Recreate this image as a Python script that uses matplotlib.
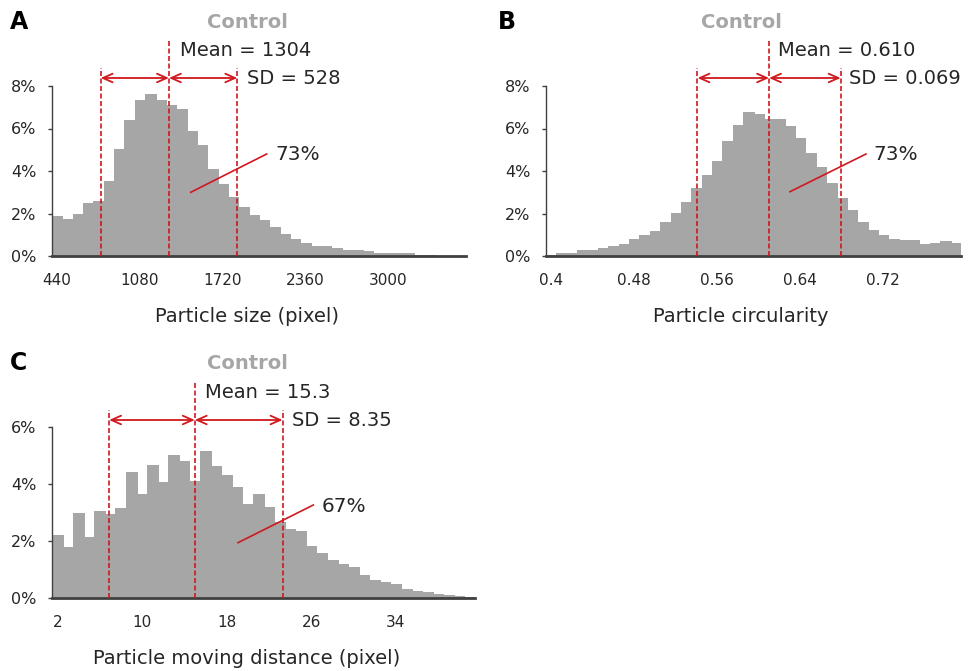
import numpy as np
import matplotlib
matplotlib.use("Agg")
import matplotlib.pyplot as plt
from matplotlib.lines import Line2D
import matplotlib.transforms as mtransforms

plt.rcParams['font.family'] = ['DejaVu Sans']

# ---------------- data ----------------
# Panel A: particle size (pixel), bin centers every 80 px starting at 440
size_bins = np.arange(440, 440 + 80 * 40, 80)
size_pct = [1.88, 1.73, 1.96, 2.48, 2.57, 3.55, 5.04, 6.38, 7.34, 7.61,
            7.36, 7.09, 6.90, 5.88, 5.22, 4.09, 3.39, 2.79, 2.29, 1.93,
            1.69, 1.38, 1.02, 0.78, 0.61, 0.45, 0.45, 0.39, 0.27, 0.27,
            0.22, 0.16, 0.13, 0.13, 0.13, 0.06, 0.06, 0.02, 0.02, 0.02]
size_ticks = [440, 1080, 1720, 2360, 3000]
size_lines = [776, 1304, 1832]          # mean - SD, mean, mean + SD
size_mean_txt, size_sd_txt, size_within = "1304", "528", "73%"

# Panel B: particle circularity, bin centers every 0.01 from 0.40
circ_bins = np.round(np.arange(0.40, 0.40 + 0.01 * 40, 0.01), 2)
circ_pct = [0.07, 0.14, 0.15, 0.27, 0.28, 0.38, 0.45, 0.57, 0.80, 0.98,
            1.16, 1.58, 2.02, 2.56, 3.22, 3.80, 4.49, 5.40, 6.15, 6.78,
            6.70, 6.45, 6.46, 6.12, 5.55, 4.83, 4.20, 3.45, 2.73, 2.16,
            1.58, 1.22, 0.97, 0.80, 0.73, 0.73, 0.56, 0.63, 0.69, 0.59]
circ_ticks = [0.4, 0.48, 0.56, 0.64, 0.72]
circ_tick_labels = ["0.4", "0.48", "0.56", "0.64", "0.72"]
circ_lines = [0.541, 0.610, 0.679]
circ_mean_txt, circ_sd_txt, circ_within = "0.610", "0.069", "73%"

# Panel C: particle moving distance (pixel), bin centers every 1 px from 2
dist_bins = np.arange(2, 42, 1)
dist_pct = [2.21, 1.80, 3.00, 2.15, 3.06, 2.96, 3.17, 4.42, 3.66, 4.66,
            4.08, 5.02, 4.79, 4.11, 5.16, 4.64, 4.30, 3.91, 3.30, 3.66,
            3.18, 2.68, 2.43, 2.36, 1.82, 1.58, 1.33, 1.21, 1.09, 0.80,
            0.62, 0.56, 0.49, 0.33, 0.26, 0.20, 0.15, 0.12, 0.08, 0.05]
dist_ticks = [2, 10, 18, 26, 34]
dist_lines = [6.9, 15.0, 23.3]
dist_mean_txt, dist_sd_txt, dist_within = "15.3", "8.35", "67%"

# ---------------- style ----------------
W, H = 971, 671
BAR = '#a6a6a6'
RED = '#d0181e'
AX = '#404040'
TXT = '#262626'
GREY_T = '#a6a6a6'

fig = plt.figure(figsize=(W / 100, H / 100), dpi=100)


def px_axes(left, top, right, bottom):
    return fig.add_axes([left / W, 1 - bottom / H, (right - left) / W, (bottom - top) / H])


def ftext(x, y, s, **kw):
    kw.setdefault('va', 'center')
    fig.text(x / W, 1 - y / H, s, **kw)


def fline(p0, p1):
    fig.add_artist(Line2D([p0[0] / W, p1[0] / W], [1 - p0[1] / H, 1 - p1[1] / H],
                          transform=fig.transFigure, color=RED, lw=1.2))


def panel(ax, bins, pct, ymax, ticks, tick_labels, lines, side_top, mean_top, arrow_y):
    width = bins[1] - bins[0]
    ax.bar(bins, np.array(pct) / 100.0, width=width, color=BAR, edgecolor=BAR,
           linewidth=0.6, antialiased=False, zorder=1)
    ax.set_xlim(bins[0] - width / 2, bins[-1] + width / 2)
    ax.set_ylim(0, ymax / 100.0)
    yt = np.arange(0, ymax + 1, 2)
    ax.set_yticks(yt / 100.0)
    ax.set_yticklabels([f"{v}%" for v in yt], fontsize=11.5, color=TXT)
    ax.set_xticks(ticks)
    ax.set_xticklabels(tick_labels, fontsize=11, color=TXT)
    ax.tick_params(axis='x', length=0, pad=12)
    ax.tick_params(axis='y', length=3, width=1, color=AX, direction='out', pad=8)
    for s in ['top', 'right']:
        ax.spines[s].set_visible(False)
    ax.spines['left'].set_color(AX)
    ax.spines['left'].set_linewidth(1.0)
    ax.spines['bottom'].set_color(AX)
    ax.spines['bottom'].set_linewidth(2.0)
    ax.spines['bottom'].set_zorder(3)
    ax.set_facecolor('none')
    trans = mtransforms.blended_transform_factory(ax.transData, ax.transAxes)
    tops = [side_top, mean_top, side_top]
    for xv, tp in zip(lines, tops):
        ax.add_line(Line2D([xv, xv], [0, tp], transform=trans, color=RED, lw=1.2,
                           linestyle=(0, (3, 1.5)), clip_on=False, zorder=4))
    for a, b in [(lines[0], lines[1]), (lines[1], lines[2])]:
        ax.annotate('', xy=(b, arrow_y), xytext=(a, arrow_y), xycoords=trans, textcoords=trans,
                    arrowprops=dict(arrowstyle='<->,head_length=0.5,head_width=0.22',
                                    color=RED, lw=1.3, shrinkA=0, shrinkB=0,
                                    mutation_scale=14), annotation_clip=False)


# ---- Panel A ----
axA = px_axes(52, 86, 466, 256)
panel(axA, size_bins, size_pct, 8, size_ticks, [str(t) for t in size_ticks], size_lines,
      (256 - 68) / 170, (256 - 40) / 170, (256 - 78) / 170)
ftext(10, 22, "A", fontsize=17, fontweight='bold', color='black')
ftext(247, 22, "Control", fontsize=14, fontweight='bold', color=GREY_T, ha='center')
ftext(180, 50, "Mean = " + size_mean_txt, fontsize=14, color=TXT)
ftext(247, 79, "SD = " + size_sd_txt, fontsize=14, color=TXT)
ftext(275, 155, size_within, fontsize=14.5, color=TXT)
fline((190.7, 192.3), (266.7, 154))
ftext(247, 316, "Particle size (pixel)", fontsize=14, color=TXT, ha='center')

# ---- Panel B ----
axB = px_axes(546, 86, 961, 256)
panel(axB, circ_bins, circ_pct, 8, circ_ticks, circ_tick_labels, circ_lines,
      (256 - 68) / 170, (256 - 40) / 170, (256 - 78) / 170)
ftext(498, 22, "B", fontsize=17, fontweight='bold', color='black')
ftext(741, 22, "Control", fontsize=14, fontweight='bold', color=GREY_T, ha='center')
ftext(778, 50, "Mean = " + circ_mean_txt, fontsize=14, color=TXT)
ftext(849, 79, "SD = " + circ_sd_txt, fontsize=14, color=TXT)
ftext(873, 155, circ_within, fontsize=14.5, color=TXT)
fline((790, 191.7), (866, 154))
ftext(741, 316, "Particle circularity", fontsize=14, color=TXT, ha='center')

# ---- Panel C ----
axC = px_axes(52, 427, 475, 598)
hC = 598 - 427
panel(axC, dist_bins, dist_pct, 6, dist_ticks, [str(t) for t in dist_ticks], dist_lines,
      (598 - 410) / hC, (598 - 382) / hC, (598 - 420) / hC)
ftext(10, 363, "C", fontsize=17, fontweight='bold', color='black')
ftext(247, 363, "Control", fontsize=14, fontweight='bold', color=GREY_T, ha='center')
ftext(205, 392, "Mean = " + dist_mean_txt, fontsize=14, color=TXT)
ftext(292, 420, "SD = " + dist_sd_txt, fontsize=14, color=TXT)
ftext(322, 506, dist_within, fontsize=14.5, color=TXT)
fline((238, 542.7), (313.3, 505))
ftext(247, 658, "Particle moving distance (pixel)", fontsize=14, color=TXT, ha='center')

fig.savefig("out.png", dpi=100)
